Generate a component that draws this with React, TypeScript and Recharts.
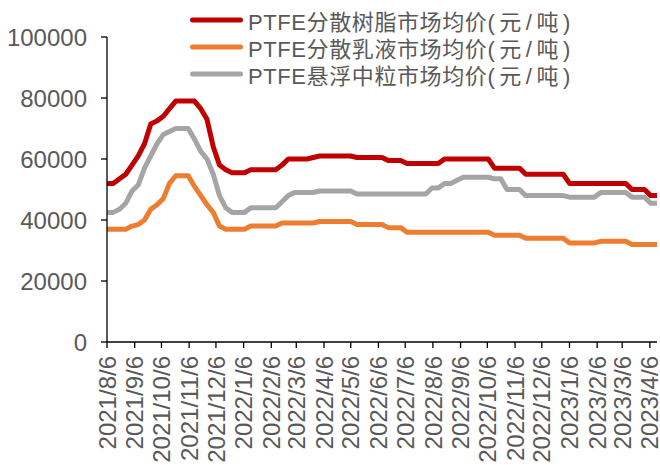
import { LineChart, Line, XAxis, YAxis } from "recharts";

const WEEKS = [
  "2021/8/6", "2021/8/13", "2021/8/20", "2021/8/27", "2021/9/3", "2021/9/10", "2021/9/17", "2021/9/24",
  "2021/10/1", "2021/10/8", "2021/10/15", "2021/10/22", "2021/10/29", "2021/11/5", "2021/11/12", "2021/11/19",
  "2021/11/26", "2021/12/3", "2021/12/10", "2021/12/17", "2021/12/24", "2021/12/31",
  "2022/1/7", "2022/1/14", "2022/1/21", "2022/1/28", "2022/2/4", "2022/2/11", "2022/2/18", "2022/2/25",
  "2022/3/4", "2022/3/11", "2022/3/18", "2022/3/25", "2022/4/1", "2022/4/8", "2022/4/15", "2022/4/22",
  "2022/4/29", "2022/5/6", "2022/5/13", "2022/5/20", "2022/5/27", "2022/6/3", "2022/6/10", "2022/6/17",
  "2022/6/24", "2022/7/1", "2022/7/8", "2022/7/15", "2022/7/22", "2022/7/29", "2022/8/5", "2022/8/12",
  "2022/8/19", "2022/8/26", "2022/9/2", "2022/9/9", "2022/9/16", "2022/9/23", "2022/9/30", "2022/10/7",
  "2022/10/14", "2022/10/21", "2022/10/28", "2022/11/4", "2022/11/11", "2022/11/18", "2022/11/25", "2022/12/2",
  "2022/12/9", "2022/12/16", "2022/12/23", "2022/12/30",
  "2023/1/6", "2023/1/13", "2023/1/20", "2023/1/27", "2023/2/3", "2023/2/10", "2023/2/17", "2023/2/24",
  "2023/3/3", "2023/3/10", "2023/3/17", "2023/3/24", "2023/3/31", "2023/4/7", "2023/4/14",
];

// PTFE分散树脂
const RESIN = [
  52000, 52000, 53500, 55000, 58000, 61000, 65000, 71500, 72500, 74000, 76500, 79000, 79000, 79000, 79000, 76500,
  73000, 64000, 58000, 56500, 55500, 55500, 55500, 56500, 56500, 56500, 56500, 56500, 58000, 60000, 60000, 60000,
  60000, 60500, 61000, 61000, 61000, 61000, 61000, 61000, 60500, 60500, 60500, 60500, 60500, 59500, 59500, 59500,
  58500, 58500, 58500, 58500, 58500, 58500, 60000, 60000, 60000, 60000, 60000, 60000, 60000, 60000, 57000, 57000,
  57000, 57000, 57000, 55000, 55000, 55000, 55000, 55000, 55000, 55000, 52000, 52000, 52000, 52000, 52000, 52000,
  52000, 52000, 52000, 52000, 50000, 50000, 50000, 48000, 48000,
];

// PTFE分散乳液
const EMULSION = [
  37000, 37000, 37000, 37000, 38000, 38500, 40000, 43500, 45000, 47000, 52000, 54500, 54500, 54500, 51000, 48000,
  45000, 42500, 38000, 37000, 37000, 37000, 37000, 38000, 38000, 38000, 38000, 38000, 39000, 39000, 39000, 39000,
  39000, 39000, 39500, 39500, 39500, 39500, 39500, 39500, 38500, 38500, 38500, 38500, 38500, 37500, 37500, 37500,
  36000, 36000, 36000, 36000, 36000, 36000, 36000, 36000, 36000, 36000, 36000, 36000, 36000, 36000, 35000, 35000,
  35000, 35000, 35000, 34000, 34000, 34000, 34000, 34000, 34000, 34000, 32500, 32500, 32500, 32500, 32500, 33000,
  33000, 33000, 33000, 33000, 32000, 32000, 32000, 32000, 32000,
];

// PTFE悬浮中粒
const SUSPENSION = [
  42500, 42500, 43500, 45500, 49500, 51500, 57000, 61000, 65000, 68000, 69000, 70000, 70000, 70000, 66500, 62500,
  60000, 55000, 48000, 44000, 42500, 42500, 42500, 44000, 44000, 44000, 44000, 44000, 46000, 48000, 49000, 49000,
  49000, 49000, 49500, 49500, 49500, 49500, 49500, 49500, 48500, 48500, 48500, 48500, 48500, 48500, 48500, 48500,
  48500, 48500, 48500, 48500, 50500, 50500, 52000, 52000, 53000, 54000, 54000, 54000, 54000, 54000, 53500, 53500,
  50000, 50000, 50000, 48000, 48000, 48000, 48000, 48000, 48000, 48000, 47500, 47500, 47500, 47500, 47500, 49000,
  49000, 49000, 49000, 49000, 47500, 47500, 47500, 45500, 45500,
];

const TICK_DATES = [
  "2021/8/6", "2021/9/6", "2021/10/6", "2021/11/6", "2021/12/6", "2022/1/6", "2022/2/6", "2022/3/6",
  "2022/4/6", "2022/5/6", "2022/6/6", "2022/7/6", "2022/8/6", "2022/9/6", "2022/10/6", "2022/11/6",
  "2022/12/6", "2023/1/6", "2023/2/6", "2023/3/6", "2023/4/6",
];

const Y_TICKS = [0, 20000, 40000, 60000, 80000, 100000];

const SERIES = [
  { key: "resin", name: "PTFE分散树脂市场均价", unit: "(元/吨)", color: "#C00000" },
  { key: "emulsion", name: "PTFE分散乳液市场均价", unit: "(元/吨)", color: "#ED7D31" },
  { key: "suspension", name: "PTFE悬浮中粒市场均价", unit: "(元/吨)", color: "#A5A5A5" },
];

const FONT = 'Arial, "Liberation Sans", "Noto Sans CJK SC", sans-serif';
const TEXT = "#595959";

const toDay = (s: string) => {
  const [y, m, d] = s.split("/").map(Number);
  return Math.round((Date.UTC(y, m - 1, d) - Date.UTC(2021, 7, 6)) / 86400000);
};

const dayToLabel: Record<number, string> = {};
TICK_DATES.forEach((t) => (dayToLabel[toDay(t)] = t));

const data = WEEKS.map((w, i) => ({
  day: toDay(w),
  resin: RESIN[i],
  emulsion: EMULSION[i],
  suspension: SUSPENSION[i],
}));

const lastDay = toDay(WEEKS[WEEKS.length - 1]);

function DateTick(props: any) {
  const { x, y, payload } = props;
  return (
    <text
      x={x}
      y={y}
      transform={`rotate(-90, ${x}, ${y})`}
      textAnchor="end"
      dy="0.36em"
      fill={TEXT}
      fontSize={24}
      fontFamily={FONT}
    >
      {dayToLabel[payload.value] ?? ""}
    </text>
  );
}

export default function App() {
  return (
    <div style={{ position: "absolute", left: 0, top: 0, width: 660, height: 465, background: "#fff" }}>
      <LineChart width={660} height={465} data={data} margin={{ top: 37, right: 3, bottom: 0, left: 0 }}>
        <XAxis
          dataKey="day"
          type="number"
          domain={[0, lastDay]}
          ticks={TICK_DATES.map(toDay)}
          interval={0}
          height={123}
          axisLine={{ stroke: "#000", strokeWidth: 1.3 }}
          tickLine={{ stroke: "#000", strokeWidth: 1.3 }}
          tickSize={6}
          tickMargin={8}
          tick={<DateTick />}
        />
        <YAxis
          type="number"
          domain={[0, 100000]}
          ticks={Y_TICKS}
          width={107}
          axisLine={{ stroke: "#000", strokeWidth: 1.3 }}
          tickLine={{ stroke: "#000", strokeWidth: 1.3 }}
          tickSize={6}
          tickMargin={14}
          tick={{ fill: TEXT, fontSize: 24, fontFamily: FONT }}
        />
        {SERIES.map((s) => (
          <Line
            key={s.key}
            dataKey={s.key}
            name={s.name + s.unit}
            stroke={s.color}
            strokeWidth={5}
            strokeLinejoin="round"
            dot={false}
            activeDot={false}
            isAnimationActive={false}
          />
        ))}
      </LineChart>
      <div
        style={{
          position: "absolute",
          left: 190,
          top: 7,
          fontFamily: FONT,
          fontSize: 22,
          letterSpacing: 0.6,
          color: TEXT,
        }}
      >
        {SERIES.map((s) => (
          <div key={s.key} style={{ display: "flex", alignItems: "center", height: 26.7, whiteSpace: "nowrap" }}>
            <svg width={58} height={10} style={{ flexShrink: 0 }}>
              <line x1={2.5} y1={5} x2={50.5} y2={5} stroke={s.color} strokeWidth={5} strokeLinecap="round" />
            </svg>
            <span>
              {s.name}
              <span style={{ letterSpacing: 4.5 }}>{s.unit}</span>
            </span>
          </div>
        ))}
      </div>
    </div>
  );
}
